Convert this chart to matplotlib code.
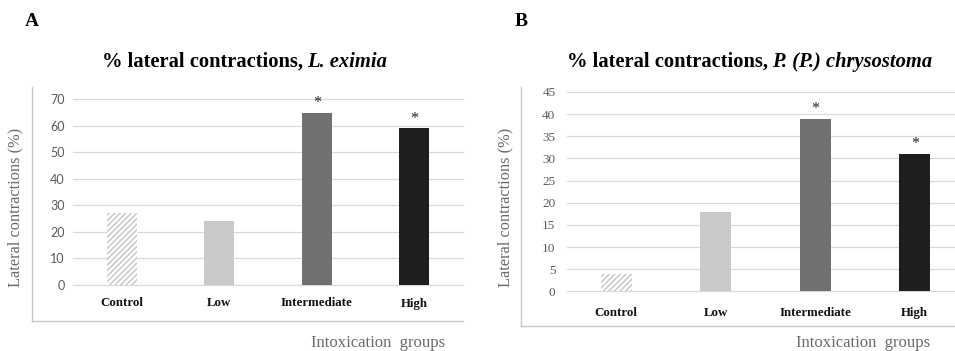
import matplotlib.pyplot as plt
from matplotlib.lines import Line2D
import numpy as np

groups = ["Control", "Low", "Intermediate", "High"]
eximia = [27, 24, 65, 59]
chrysostoma = [4, 18, 39, 31]
significant = [False, False, True, True]
ticks_a = np.arange(0, 71, 10)
ticks_b = np.arange(0, 46, 5)

bar_colors = ["white", "#c9c9c9", "#717171", "#1f1f1f"]
grid_c = "#d9d9d9"
label_c = "#6a6a6a"
serif = "Liberation Serif"

plt.rcParams["font.family"] = serif

fig = plt.figure(figsize=(9.55, 3.51), dpi=100)
W, H = 955.0, 351.0


def panel(rect, values, yticks, pad_x, pad_y, tick_font, tick_size, letter,
          letter_x, title1, title2, title_x, border_x, border_y, border_r,
          ylab_x, xlab_x):
    ax = fig.add_axes(rect)
    x = np.arange(len(groups))
    for i, v in enumerate(values):
        if i == 0:
            ax.bar(x[i], v, 0.31, color="white", edgecolor="#c4c4c4",
                   hatch="//////", linewidth=0, zorder=2)
        else:
            ax.bar(x[i], v, 0.31, color=bar_colors[i], zorder=2)
        if significant[i]:
            ax.annotate("*", (x[i], v), xytext=(0, 7), textcoords="offset points",
                        ha="center", va="center", fontsize=11.5,
                        color="#222222", annotation_clip=False)
    ax.set_xlim(-0.5, 3.5)
    ax.set_ylim(0, yticks[-1])
    ax.set_yticks(yticks)
    ax.set_xticks(x)
    ax.set_xticklabels(groups, fontweight="bold", fontsize=9.3, color="#111111")
    ax.tick_params(axis="x", length=0, pad=pad_x)
    ax.tick_params(axis="y", length=0, pad=pad_y, labelsize=tick_size,
                   labelcolor="#5a5a5a")
    for lab in ax.get_yticklabels():
        lab.set_family(tick_font)
    for s in ax.spines.values():
        s.set_visible(False)
    ax.yaxis.grid(True, color=grid_c, linewidth=0.9, zorder=0)
    ax.set_axisbelow(True)
    for line in ax.get_ygridlines():
        line.set_clip_on(False)

    # panel letter and title
    fig.text(letter_x / W, 1 - 21 / H, letter, fontsize=14, fontweight="bold",
             ha="left", va="center")
    t1 = fig.text(title_x / W, 1 - 67 / H, title1, fontsize=14.8,
                  fontweight="bold", ha="left", va="baseline")
    ax.annotate(title2, xy=(1, 0), xycoords=t1, xytext=(3, 0),
                textcoords="offset points", fontsize=14.8, fontweight="bold",
                fontstyle="italic", ha="left", va="bottom")

    # chart area border (left and bottom)
    fig.add_artist(Line2D([border_x / W, border_x / W],
                          [1 - 87 / H, 1 - border_y / H],
                          color="#c8c8c8", linewidth=1))
    fig.add_artist(Line2D([border_x / W, border_r / W],
                          [1 - border_y / H, 1 - border_y / H],
                          color="#c8c8c8", linewidth=1))

    fig.text(ylab_x / W, 1 - 207 / H, "Lateral contractions (%)", rotation=90,
             fontsize=11.8, color=label_c, ha="center", va="center")
    fig.text(xlab_x / W, 1 - 343 / H, "Intoxication  groups", fontsize=12,
             color=label_c, ha="center", va="center")
    return ax


panel([73 / W, 66 / H, 390 / W, 185.7 / H], eximia, ticks_a, 9, 6, "Lato", 9,
      "A", 25, "% lateral contractions,", "L. eximia", 102,
      32, 321, 463, 15, 378)
panel([566.5 / W, 59.7 / H, 398 / W, 199.3 / H], chrysostoma, ticks_b, 11, 8,
      serif, 9.5, "B", 515, "% lateral contractions,", "P. (P.) chrysostoma", 567,
      521, 326, 955, 505, 863)

fig.savefig("out.png", dpi=100, facecolor="white")
